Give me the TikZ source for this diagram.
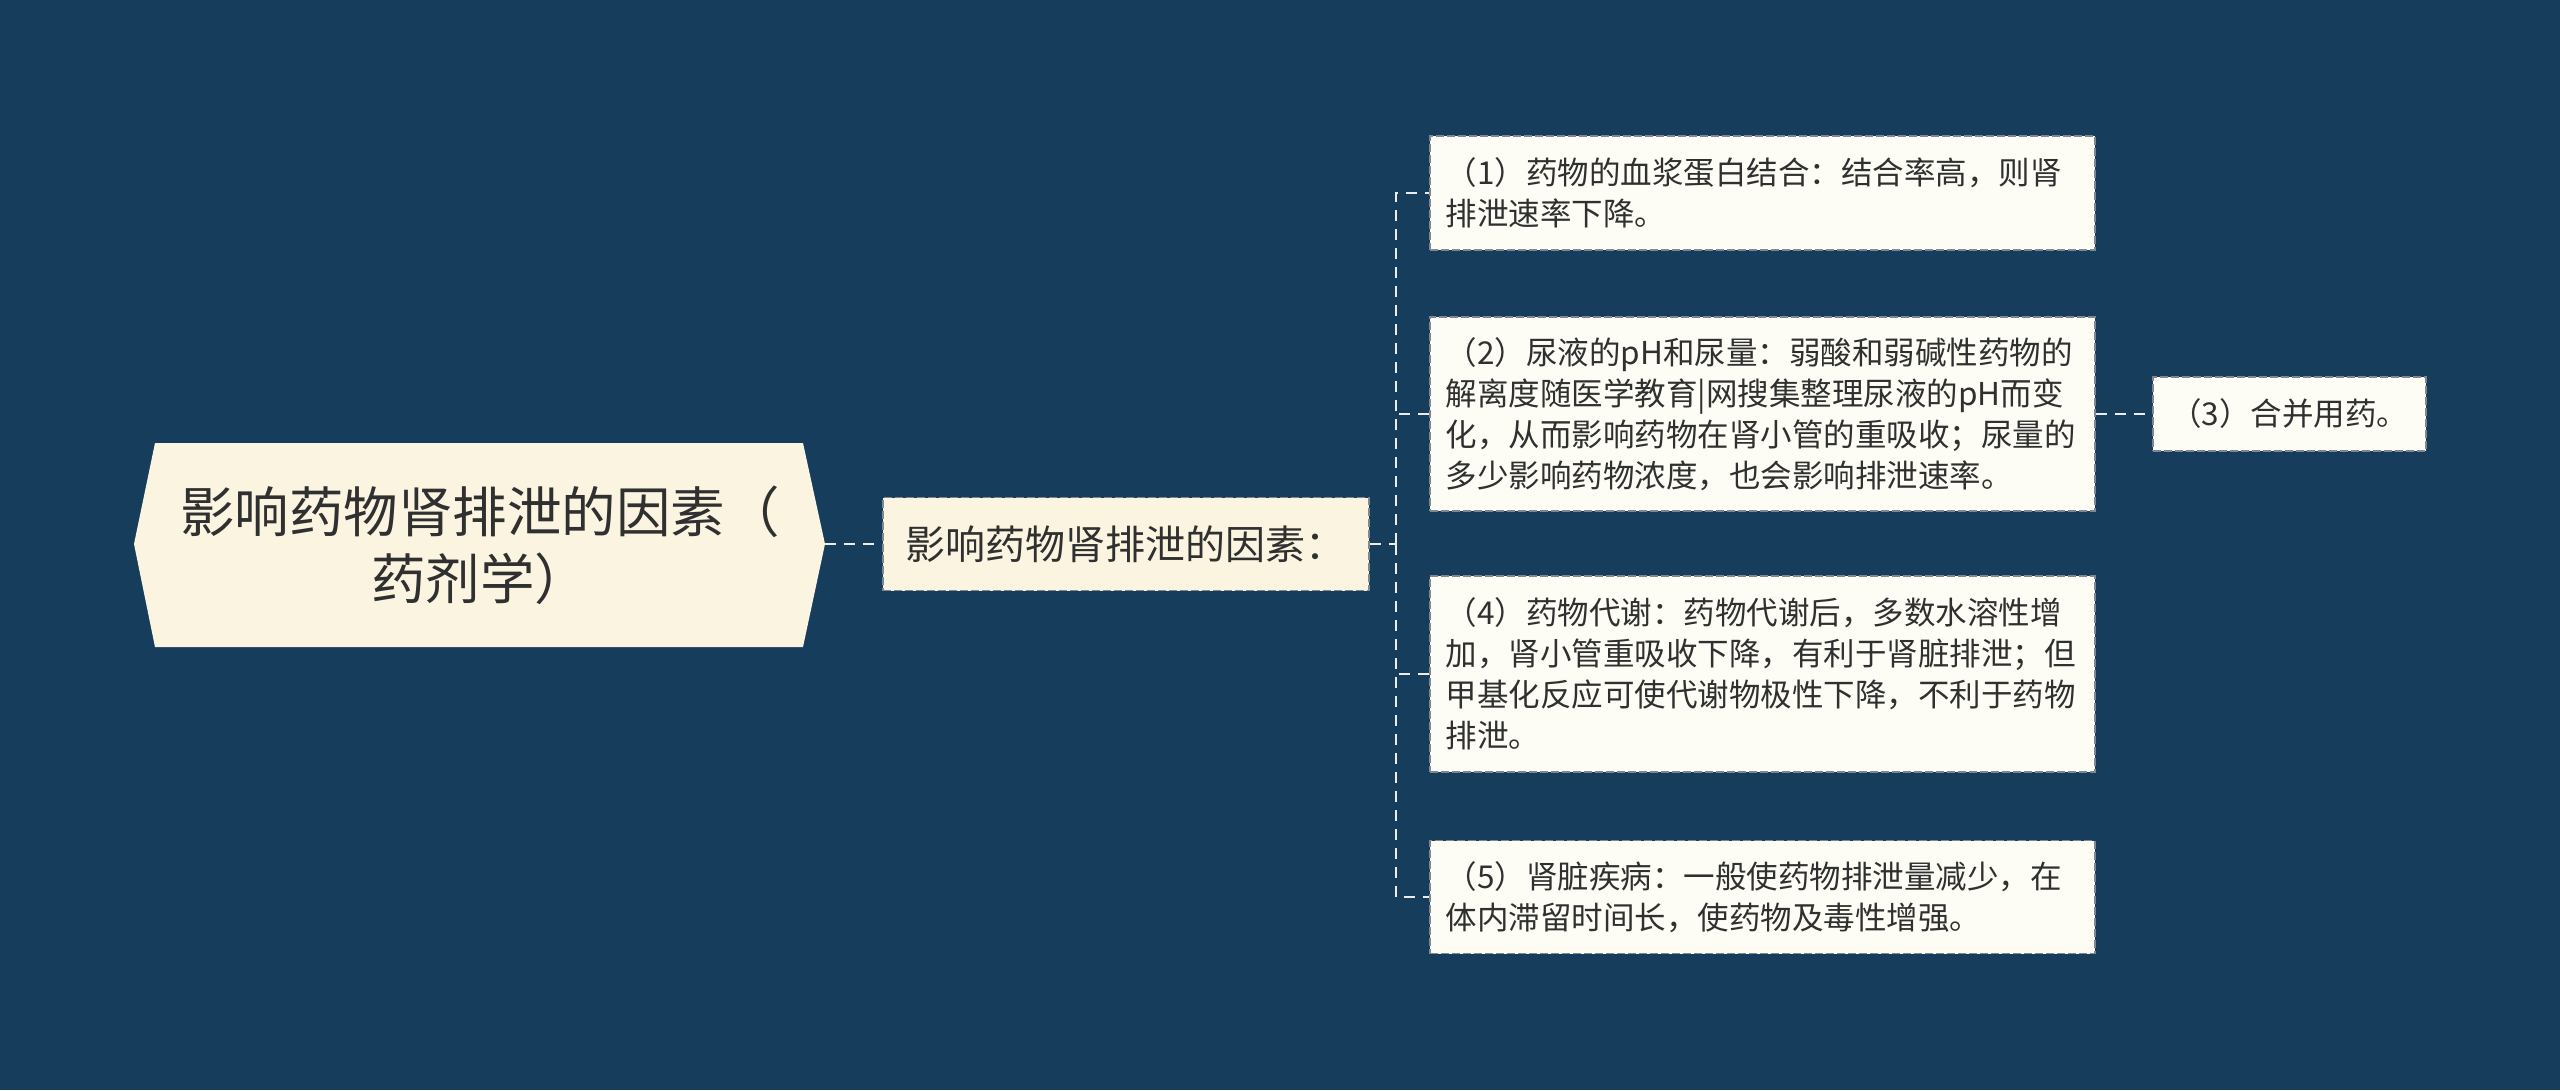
\documentclass[tikz,border=0pt]{standalone}
\usepackage{fontspec}
\setmainfont{Noto Sans CJK SC}
\definecolor{bgc}{HTML}{173D5D}
\definecolor{rootfill}{HTML}{FAF4E1}
\definecolor{leaffill}{HTML}{FDFDF6}
\definecolor{boxline}{HTML}{7F8791}
\definecolor{linkc}{HTML}{ECECEC}
\definecolor{txt}{HTML}{303030}
\begin{document}
\begin{tikzpicture}[x=1pt,y=-1pt,
  leafbox/.style={draw=boxline, line width=1.6pt, dash pattern=on 8pt off 3pt, fill=leaffill,
    anchor=west, text width=633pt, align=left, inner xsep=16pt, inner ysep=0pt,
    font=\fontsize{31.5}{41}\selectfont, text=txt},
  midbox/.style={draw=boxline, line width=1.6pt, dash pattern=on 8pt off 3pt, fill=rootfill,
    anchor=west, minimum width=486pt, minimum height=93pt, inner sep=0pt,
    font=\fontsize{40}{48}\selectfont, text=txt},
  link/.style={draw=linkc, line width=2pt, dash pattern=on 11pt off 8pt}]
\fill[bgc] (0,0) rectangle (2560,1090);
\useasboundingbox (0,0) rectangle (2560,1090);
% root hexagon
\fill[rootfill] (134,544) -- (155,443) -- (803,443) -- (825,544) -- (803,647) -- (155,647) -- cycle;
\node[font=\fontsize{54.5}{67}\selectfont, text=txt, align=center, inner sep=0pt] (root) at (480,545)
  {影响药物肾排泄的因素（\\药剂学）};
\coordinate (rootE) at (825,544);
% level 1
\node[midbox] (mid) at (882,544) {影响药物肾排泄的因素：};
% leaves
\node[leafbox, minimum height=114pt] (l1) at (1429,193)
  {（1）药物的血浆蛋白结合：结合率高，则肾\\排泄速率下降。};
\node[leafbox, minimum height=194pt] (l2) at (1429,414)
  {（2）尿液的pH和尿量：弱酸和弱碱性药物的\\解离度随医学教育|网搜集整理尿液的pH而变\\化，从而影响药物在肾小管的重吸收；尿量的\\多少影响药物浓度，也会影响排泄速率。};
\node[leafbox, minimum height=196pt] (l4) at (1429,674)
  {（4）药物代谢：药物代谢后，多数水溶性增\\加，肾小管重吸收下降，有利于肾脏排泄；但\\甲基化反应可使代谢物极性下降，不利于药物\\排泄。};
\node[leafbox, minimum height=113pt] (l5) at (1429,897)
  {（5）肾脏疾病：一般使药物排泄量减少，在\\体内滞留时间长，使药物及毒性增强。};
\node[leafbox, text width=, minimum width=273pt, minimum height=74pt, align=center] (l3) at (2152,414)
  {（3）合并用药。};
% connectors
\draw[link] (rootE) -- (mid.west);
\coordinate (sp) at (1396,544);
\draw[link] (mid.east) -- (sp);
\draw[link] (sp) |- (l1.west);
\draw[link] (sp) |- (l2.west);
\draw[link] (sp) |- (l4.west);
\draw[link] (sp) |- (l5.west);
\draw[link] (l2.east) -- (l3.west);
\end{tikzpicture}
\end{document}
